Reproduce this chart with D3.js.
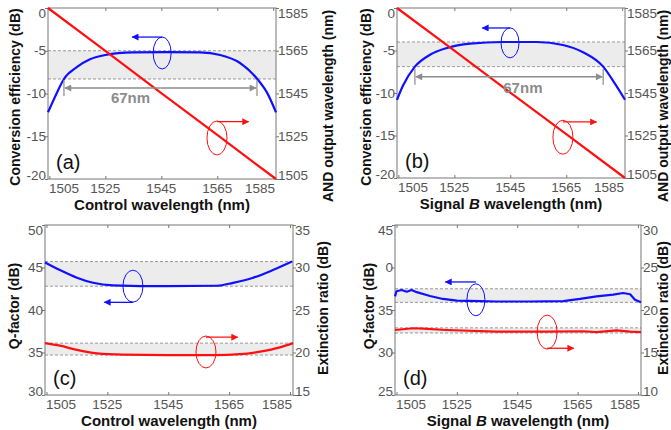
<!DOCTYPE html>
<html><head><meta charset="utf-8">
<script src="https://cdn.jsdelivr.net/npm/d3@7"></script>
<style>body{margin:0;background:#fff}svg{display:block}</style>
</head><body>
<script>
// ---------- DATA ----------
const xTicks = [1505, 1525, 1545, 1565, 1585];
const xDomain = [1504.5, 1586];

// (a) conversion efficiency vs control wavelength
const wlA = [1504.5, 1507.7, 1510.2, 1514.9, 1519.5, 1525, 1535, 1547, 1558.8, 1566, 1573, 1579.3, 1582.8, 1586];
const ceA = [-12.2, -9.9, -8.3, -6.9, -6.0, -5.5, -5.2, -5.15, -5.2, -5.5, -6.4, -8.3, -9.9, -12.2];
// (b) conversion efficiency vs signal B wavelength
const wlB = [1504.5, 1506.7, 1510.9, 1516.3, 1522.4, 1530.6, 1542.4, 1554.5, 1563.8, 1571, 1578.2, 1582.4, 1586];
const ceB = [-10.8, -9.1, -6.9, -5.5, -4.7, -4.2, -4.0, -4.0, -4.35, -5.2, -6.9, -8.9, -10.8];
// AND output wavelength (right axis of a, b)
const wlOut = [1504.5, 1525, 1545, 1565, 1586];
const andOut = [1585, 1564.9, 1545.2, 1525.6, 1505];
// (c) Q-factor and extinction ratio vs control wavelength
const wlCq = [1504.5, 1509.4, 1515, 1520.3, 1526.8, 1544.6, 1561, 1566.3, 1572.9, 1579.4, 1585.7];
const qC = [45.6, 44.7, 43.8, 43.2, 42.9, 42.8, 42.85, 43.2, 43.8, 44.7, 45.7];
const wlCe = [1504.5, 1509.4, 1515, 1521.6, 1530, 1545, 1560, 1568.6, 1575.2, 1581.7, 1586];
const erC = [21.1, 20.8, 20.3, 19.9, 19.75, 19.7, 19.7, 19.8, 20.1, 20.6, 21.1];
// (d) Q-factor and extinction ratio vs signal B wavelength
const wlDq = [1504.5, 1505, 1506.7, 1508.4, 1510, 1511.7, 1516.1, 1520.4, 1525, 1532.7, 1538.2, 1549.2, 1560.2, 1565.8, 1571.3, 1576.8, 1580.1, 1582.4, 1584, 1586];
const qD = [36.6, 37.2, 37.35, 37.15, 37.35, 37.1, 36.65, 36.3, 36.1, 36.05, 36.0, 36.0, 36.05, 36.3, 36.6, 36.8, 37.0, 36.85, 36.2, 35.9];
const wlDe = [1504.5, 1510.5, 1513.8, 1521.5, 1538.2, 1554.7, 1566.8, 1571.3, 1577.9, 1582.4, 1586];
const erD = [17.65, 17.85, 17.8, 17.65, 17.45, 17.45, 17.5, 17.4, 17.6, 17.45, 17.4];

// axis tick labels
const yTicksA = [0, -5, -10, -15, -20];
const yTicksOutWl = [1585, 1565, 1545, 1525, 1505];
const yTicksQc = [50, 45, 40, 35, 30];
const yTicksErC = [35, 30, 25, 20, 15];
const yTicksQd = [45, 40, 35, 30, 25];
const yTickTextQd = ["45", "0", "35", "30", "25"];
const yTicksErD = [30, 25, 20, 15, 10];

// bands (dashed lines)
const bandA = [-5, -8.3];
const bandB = [-4.0, -6.9];
const bandCq = [45.7, 42.8];
const bandCe = [21.1, 19.7];
const bandDq = [37.5, 35.9];
const bandDe = [17.9, 17.3];

// ---------- DRAW ----------
const W = 671, H = 430;
const svg = d3.select("body").append("svg").attr("width", W).attr("height", H);
svg.append("rect").attr("width", W).attr("height", H).attr("fill", "#fff");
const FONT = "'Liberation Sans', Arial, sans-serif";
const BLUE = "#1010ff", RED = "#ff1010", GRAY = "#8c8c8c";

const defs = svg.append("defs");
[["ab", BLUE], ["ar", RED], ["ag", GRAY]].forEach(([id, c]) => {
  defs.append("marker").attr("id", id).attr("viewBox", "0 0 10 10").attr("refX", 9).attr("refY", 5)
    .attr("markerWidth", 9).attr("markerHeight", 7).attr("markerUnits", "userSpaceOnUse").attr("orient", "auto")
    .append("path").attr("d", "M0,0L10,5L0,10Z").attr("fill", c);
});

function panel(cfg) {
  const g = svg.append("g");
  const x = d3.scaleLinear().domain(xDomain).range([cfg.x0, cfg.x1]);
  const yL = d3.scaleLinear().domain(cfg.yL).range([cfg.y1, cfg.y0]);
  const yR = d3.scaleLinear().domain(cfg.yR).range([cfg.y1, cfg.y0]);
  // bands
  cfg.bands.forEach(b => {
    const ys = b.axis === "L" ? yL : yR;
    g.append("rect").attr("x", cfg.x0).attr("width", cfg.x1 - cfg.x0)
      .attr("y", ys(b.v[0])).attr("height", ys(b.v[1]) - ys(b.v[0])).attr("fill", "#ececec");
    b.v.forEach(v => g.append("line").attr("x1", cfg.x0).attr("x2", cfg.x1).attr("y1", ys(v)).attr("y2", ys(v))
      .attr("stroke", "#999").attr("stroke-width", 1).attr("stroke-dasharray", "3,2"));
  });
  // axes
  const tickL = 3;
  const axB = d3.axisBottom(x).tickValues(xTicks).tickSizeInner(-tickL).tickSizeOuter(0).tickFormat("");
  const axT = d3.axisTop(x).tickValues(xTicks).tickSizeInner(-tickL).tickSizeOuter(0).tickFormat("");
  const axL = d3.axisLeft(yL).tickValues(cfg.yLt).tickSizeInner(3).tickSizeOuter(0).tickFormat("");
  const axR = d3.axisRight(yR).tickValues(cfg.yRt).tickSizeInner(3).tickSizeOuter(0).tickFormat("");
  [[axB, `translate(0,${cfg.y1})`], [axT, `translate(0,${cfg.y0})`], [axL, `translate(${cfg.x0},0)`], [axR, `translate(${cfg.x1},0)`]]
    .forEach(([ax, tr]) => {
      const a = g.append("g").attr("transform", tr).call(ax);
      a.selectAll("path").remove();
      a.selectAll("line").attr("stroke", "#777");
    });
  g.append("rect").attr("x", cfg.x0).attr("y", cfg.y0).attr("width", cfg.x1 - cfg.x0).attr("height", cfg.y1 - cfg.y0)
    .attr("fill", "none").attr("stroke", "#777").attr("stroke-width", 1);
  // tick labels
  const tl = { "font-family": FONT, "font-size": "13.5px", fill: "#555" };
  xTicks.forEach((t, i) => {
    let xx = x(t), anchor = "middle";
    if (i === 0) { xx = cfg.x0 + 1; anchor = "start"; }
    if (i === xTicks.length - 1) { xx = cfg.x1 - 1; anchor = "end"; }
    const tx = g.append("text").attr("x", xx).attr("y", cfg.y1 + 14).attr("text-anchor", anchor).text(t);
    Object.entries(tl).forEach(([k, v]) => tx.attr(k, v));
  });
  const clampY = yy => Math.max(cfg.y0 + 5, Math.min(cfg.y1 - 4, yy));
  cfg.yLt.forEach((t, i) => {
    const tx = g.append("text").attr("x", cfg.x0 - 2).attr("y", clampY(yL(t))).attr("dy", "0.35em")
      .attr("text-anchor", "end").text(cfg.yLtext ? cfg.yLtext[i] : t);
    Object.entries(tl).forEach(([k, v]) => tx.attr(k, v));
  });
  cfg.yRt.forEach(t => {
    const tx = g.append("text").attr("x", cfg.x1 + 2).attr("y", clampY(yR(t))).attr("dy", "0.35em")
      .attr("text-anchor", "start").text(t);
    Object.entries(tl).forEach(([k, v]) => tx.attr(k, v));
  });
  // titles
  const tt = (xx, yy, rot, fs) => g.append("text").attr("font-family", FONT).attr("font-weight", "bold")
      .attr("font-size", fs + "px").attr("fill", "#111").attr("text-anchor", "middle").attr("dominant-baseline", "central")
      .attr("transform", `translate(${xx},${yy})` + (rot ? " rotate(-90)" : ""));
  const xt = tt((cfg.x0 + cfg.x1) / 2, cfg.y1 + 25, false, 15);
  if (cfg.italicB) {
    xt.append("tspan").text("Signal ");
    xt.append("tspan").attr("font-style", "italic").text("B");
    xt.append("tspan").text(" wavelength (nm)");
  } else xt.text("Control wavelength (nm)");
  tt(cfg.lx, cfg.ly, true, 14).text(cfg.lTitle);
  tt(cfg.rx, cfg.ry, true, 14).text(cfg.rTitle);
  // curves
  cfg.series.forEach(s => {
    const ys = s.axis === "L" ? yL : yR;
    const line = d3.line().x(d => x(d[0])).y(d => ys(d[1])).curve(s.curve || d3.curveMonotoneX);
    g.append("path").datum(d3.zip(s.x, s.y)).attr("d", line).attr("fill", "none")
      .attr("stroke", s.color).attr("stroke-width", 2.2).attr("stroke-linejoin", "round");
  });
  // annotations: ellipse + arrow
  cfg.ann.forEach(a => {
    const ys = a.axis === "L" ? yL : yR;
    const cx = x(a.cx), cy = ys(a.cy);
    g.append("ellipse").attr("cx", cx).attr("cy", cy).attr("rx", a.rx).attr("ry", a.ry)
      .attr("fill", "none").attr("stroke", a.color).attr("stroke-width", 1);
    const ay = ys(a.ay);
    g.append("line").attr("x1", cx).attr("y1", ay).attr("x2", x(a.ax)).attr("y2", ay)
      .attr("stroke", a.color).attr("stroke-width", 1.3).attr("marker-end", `url(#${a.color === BLUE ? "ab" : "ar"})`);
  });
  // 67nm span
  if (cfg.span) {
    const s = cfg.span, sy = yL(s.y);
    const x1 = x(s.x[0]), x2 = x(s.x[1]);
    [x1, x2].forEach(xx => g.append("line").attr("x1", xx).attr("x2", xx).attr("y1", sy - 8).attr("y2", sy + 8)
      .attr("stroke", GRAY).attr("stroke-width", 1.2));
    const xm = (x1 + x2) / 2;
    g.append("line").attr("x1", xm).attr("x2", x1 + 1).attr("y1", sy).attr("y2", sy).attr("stroke", GRAY).attr("stroke-width", 1.5).attr("marker-end", "url(#ag)");
    g.append("line").attr("x1", xm).attr("x2", x2 - 1).attr("y1", sy).attr("y2", sy).attr("stroke", GRAY).attr("stroke-width", 1.5).attr("marker-end", "url(#ag)");
    g.append("text").attr("x", x(s.tx)).attr("y", yL(s.ty)).attr("dy", "0.35em").attr("text-anchor", "middle")
      .attr("font-family", FONT).attr("font-weight", "bold").attr("font-size", "15px").attr("fill", GRAY).text("67nm");
  }
  // panel letter
  g.append("text").attr("x", cfg.x0 + 8).attr("y", cfg.y1 - 10).attr("font-family", FONT).attr("font-size", "20px")
    .attr("fill", "#111").text(cfg.letter);
}

panel({ x0: 48, x1: 276, y0: 8, y1: 179, yL: [-20, 0], yR: [1505, 1585], yLt: yTicksA, yRt: yTicksOutWl,
  lx: 15, ly: 97, rx: 328, ry: 106, lTitle: "Conversion efficiency (dB)", rTitle: "AND output wavelength (nm)", letter: "(a)",
  bands: [{ axis: "L", v: bandA }],
  series: [{ axis: "L", x: wlA, y: ceA, color: BLUE }, { axis: "R", x: wlOut, y: andOut, color: RED, curve: d3.curveLinear }],
  ann: [{ axis: "L", cx: 1545.3, cy: -5.26, rx: 9, ry: 16, ay: -3.4, ax: 1534.6, color: BLUE },
        { axis: "L", cx: 1564.9, cy: -15.2, rx: 10, ry: 17, ay: -13.3, ax: 1576.2, color: RED }],
  span: { x: [1510.2, 1579.2], y: -9.36, tx: 1534, ty: -10.5 } });

panel({ x0: 397, x1: 625, y0: 8, y1: 178, yL: [-20, 0], yR: [1505, 1585], yLt: yTicksA, yRt: yTicksOutWl,
  lx: 366, ly: 97, rx: 663, ry: 106, lTitle: "Conversion efficiency (dB)", rTitle: "AND output wavelength (nm)", letter: "(b)", italicB: true,
  bands: [{ axis: "L", v: bandB }],
  series: [{ axis: "L", x: wlB, y: ceB, color: BLUE }, { axis: "R", x: wlOut, y: andOut, color: RED, curve: d3.curveLinear }],
  ann: [{ axis: "L", cx: 1544.9, cy: -4.1, rx: 9, ry: 15, ay: -2.35, ax: 1535.0, color: BLUE },
        { axis: "L", cx: 1563.8, cy: -15.2, rx: 10, ry: 17, ay: -13.4, ax: 1575.8, color: RED }],
  span: { x: [1510.9, 1578.2], y: -8.1, tx: 1549.5, ty: -9.4 } });

panel({ x0: 45, x1: 293, y0: 225, y1: 395, yL: [30, 50], yR: [15, 35], yLt: yTicksQc, yRt: yTicksErC,
  lx: 14, ly: 306, rx: 323, ry: 308, lTitle: "Q-factor (dB)", rTitle: "Extinction ratio (dB)", letter: "(c)",
  bands: [{ axis: "L", v: bandCq }, { axis: "R", v: bandCe }],
  series: [{ axis: "L", x: wlCq, y: qC, color: BLUE }, { axis: "R", x: wlCe, y: erC, color: RED }],
  ann: [{ axis: "L", cx: 1533.4, cy: 42.8, rx: 10, ry: 16, ay: 40.9, ax: 1524.0, color: BLUE },
        { axis: "R", cx: 1557.4, cy: 20.06, rx: 10, ry: 16, ay: 21.8, ax: 1567.8, color: RED }] });

panel({ x0: 395, x1: 641, y0: 225, y1: 395, yL: [25, 45], yR: [10, 30], yLt: yTicksQd, yLtext: yTickTextQd, yRt: yTicksErD,
  lx: 369, ly: 306, rx: 663, ry: 308, lTitle: "Q-factor (dB)", rTitle: "Extinction ratio (dB)", letter: "(d)", italicB: true,
  bands: [{ axis: "L", v: bandDq }, { axis: "R", v: bandDe }],
  series: [{ axis: "L", x: wlDq, y: qD, color: BLUE, curve: d3.curveLinear }, { axis: "R", x: wlDe, y: erD, color: RED, curve: d3.curveLinear }],
  ann: [{ axis: "L", cx: 1531.3, cy: 36.2, rx: 9, ry: 16, ay: 38.3, ax: 1521.2, color: BLUE },
        { axis: "R", cx: 1554.9, cy: 17.4, rx: 10, ry: 17, ay: 15.5, ax: 1563.7, color: RED }] });
</script>
</body></html>
